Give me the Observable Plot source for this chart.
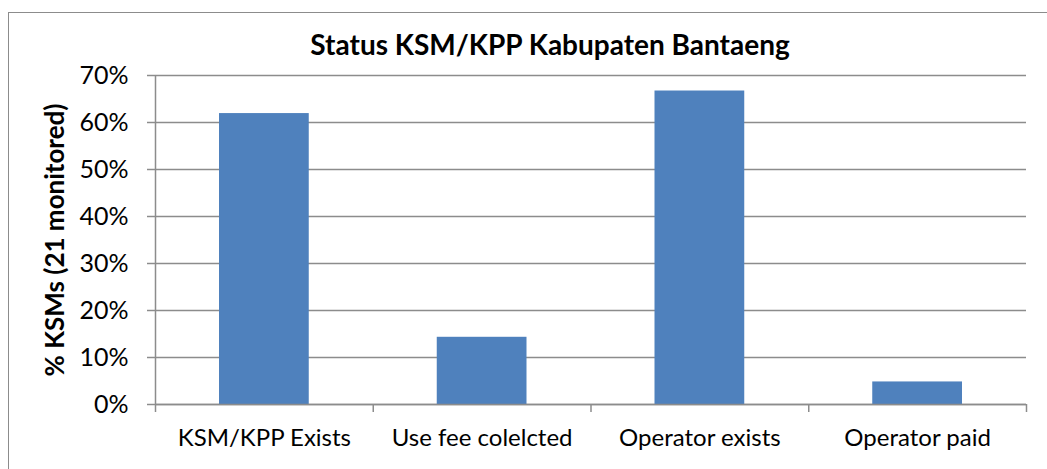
<!DOCTYPE html>
<html>
<head>
<meta charset="utf-8">
<script src="https://cdn.jsdelivr.net/npm/d3@7"></script>
<script src="https://cdn.jsdelivr.net/npm/@observablehq/plot@0.6"></script>
<style>
  html, body { margin: 0; padding: 0; background: #fff; overflow: hidden; }
  #wrap { position: relative; width: 1047px; height: 469px; overflow: hidden; }
  #frame { position: absolute; left: 8px; top: 12px; width: 1100px; height: 520px; border: 1.5px solid #8c8c8c; box-sizing: border-box; }
  #chart { position: absolute; left: 0; top: 0; }
</style>
</head>
<body>
<div id="wrap"><div id="frame"></div><div id="chart"></div></div>
<script>
const title = "Status KSM/KPP Kabupaten Bantaeng";
const yLabel = "% KSMs (21 monitored)";
const categories = ["KSM/KPP Exists", "Use fee colelcted", "Operator exists", "Operator paid"];
const values = [0.619, 0.143, 0.667, 0.048];
const yTicks = [0, 0.1, 0.2, 0.3, 0.4, 0.5, 0.6, 0.7];

const data = categories.map((c, i) => ({category: c, i, value: values[i]}));
const font = "Lato, 'Open Sans', sans-serif";

const chart = Plot.plot({
  width: 1047,
  height: 469,
  marginLeft: 155,
  marginRight: 21,
  marginTop: 75,
  marginBottom: 65,
  style: {fontFamily: font, fontSize: "24px", color: "#000", background: "transparent", overflow: "visible"},
  x: {type: "linear", domain: [0, categories.length], axis: null},
  y: {domain: [0, 0.7], axis: null},
  marks: [
    Plot.gridY(yTicks, {stroke: "#8c8c8c", strokeOpacity: 1, strokeWidth: 1.5}),
    Plot.rectY(data, {x1: "i", x2: d => d.i + 1, y: "value", fill: "#4f81bd", insetLeft: 64, insetRight: 64}),
    Plot.axisY({ticks: yTicks, tickFormat: d3.format(".0%"), tickSize: 8, tickPadding: 19, stroke: "#8c8c8c", strokeWidth: 1.5, label: null, fontSize: 25}),
    Plot.ruleX([0], {stroke: "#8c8c8c", strokeWidth: 1.5}),
    Plot.ruleY([0], {stroke: "#8c8c8c", strokeWidth: 1.5}),
    Plot.axisX({ticks: d3.range(0, categories.length + 1), tickFormat: () => "", tickSize: 8, stroke: "#8c8c8c", strokeWidth: 1.5, label: null}),
    Plot.text(data, {x: d => d.i + 0.5, frameAnchor: "bottom", text: "category", dy: 41, fontSize: 24, fill: "#000"}),
    Plot.text([yLabel], {frameAnchor: "left", textAnchor: "middle", dx: -100, rotate: -90, text: d => d, fontWeight: "bold", fontSize: 26, fill: "#000"}),
    Plot.text([title], {frameAnchor: "top", dx: -41, dy: -40, text: d => d, fontWeight: "bold", fontSize: 28, fill: "#000"})
  ]
});
document.getElementById("chart").appendChild(chart);
</script>
</body>
</html>
